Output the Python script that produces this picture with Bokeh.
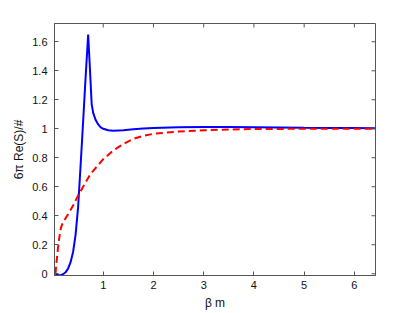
import math
from bokeh.plotting import figure
from bokeh.models import Range1d, FixedTicker
from bokeh.embed import file_html
from bokeh.resources import INLINE

# Blue solid curve
blue_x = [0.05, 0.1, 0.15, 0.2, 0.25, 0.3, 0.35, 0.4, 0.45, 0.5, 0.55, 0.6, 0.65, 0.70,
          0.73, 0.77, 0.8, 0.85, 0.9, 0.95, 1.0, 1.1, 1.2, 1.4, 1.6, 1.8, 2.0, 2.5, 3.0,
          3.5, 4.0, 4.5, 5.0, 5.5, 6.0, 6.42]
blue_y = [0.0, -0.008, -0.01, -0.003, 0.01, 0.035, 0.08, 0.15, 0.27, 0.46, 0.75, 1.05, 1.36, 1.65,
          1.45, 1.17, 1.11, 1.06, 1.03, 1.01, 1.0, 0.99, 0.987, 0.99, 0.996, 1.001, 1.006, 1.011, 1.013,
          1.013, 1.011, 1.009, 1.007, 1.006, 1.005, 1.004]

# Red dashed curve
red_x = [0.05, 0.07, 0.1, 0.13, 0.16, 0.2, 0.3, 0.4, 0.5, 0.6, 0.75, 0.9, 1.0, 1.2, 1.4,
         1.6, 1.8, 2.0, 2.5, 3.0, 3.5, 4.0, 4.5, 5.0, 5.5, 6.0, 6.42]
red_y = [0.0, 0.08, 0.18, 0.26, 0.32, 0.355, 0.41, 0.47, 0.54, 0.60, 0.69, 0.75, 0.79, 0.85, 0.895,
         0.93, 0.952, 0.965, 0.981, 0.99, 0.995, 0.998, 0.999, 1.0, 1.0, 1.0, 1.0]

x_ticks = [1, 2, 3, 4, 5, 6]
y_ticks = [0, 0.2, 0.4, 0.6, 0.8, 1.0, 1.2, 1.4, 1.6]
y_tick_labels = ["0", "0.2", "0.4", "0.6", "0.8", "1", "1.2", "1.4", "1.6"]

x_limits = [0.03, 6.42]
y_limits = [-0.012, 1.726]

x_label = "β m"
y_label = "6π Re(S)/#"

FONT = "Liberation Sans"
AX = "#555555"

p = figure(width=415, height=313, x_range=Range1d(*x_limits), y_range=Range1d(*y_limits),
           output_backend="svg", toolbar_location=None,
           min_border_left=54, min_border_right=40, min_border_top=23, min_border_bottom=38)

p.xgrid.visible = False
p.ygrid.visible = False
p.outline_line_color = AX
p.outline_line_alpha = 1.0
p.background_fill_color = "white"
p.border_fill_color = "white"

p.line(blue_x, blue_y, line_color="#0000ff", line_width=2)
p.line(red_x, red_y, line_color="#ff0000", line_width=2, line_dash="7 4")

# tick marks on the top and right edges of the box (clipped to the frame, half inside)
p.scatter(x_ticks, [y_limits[1]] * len(x_ticks), marker="dash", angle=math.pi / 2,
          size=8, line_color=AX, line_width=1)
p.scatter([x_limits[1]] * len(y_ticks), y_ticks, marker="dash", angle=0,
          size=8, line_color=AX, line_width=1)

for ax in [p.xaxis[0], p.yaxis[0]]:
    ax.major_tick_in = 4
    ax.major_tick_out = 0
    ax.minor_tick_line_color = None
    ax.axis_line_color = AX
    ax.major_tick_line_color = AX
    ax.major_label_text_font = FONT
    ax.major_label_text_font_size = "11px"
    ax.major_label_text_color = "#111111"
    ax.axis_label_text_font = FONT
    ax.axis_label_text_font_size = "12px"
    ax.axis_label_text_font_style = "normal"
    ax.axis_label_text_color = "#111111"

p.xaxis[0].ticker = FixedTicker(ticks=x_ticks)
p.yaxis[0].ticker = FixedTicker(ticks=y_ticks)
p.yaxis[0].major_label_overrides = {t: l for t, l in zip(y_ticks, y_tick_labels)}
p.xaxis[0].axis_label = x_label
p.yaxis[0].axis_label = y_label
p.xaxis[0].major_label_standoff = 5
p.yaxis[0].major_label_standoff = 7
p.xaxis[0].axis_label_standoff = 4
p.yaxis[0].axis_label_standoff = 3

open("out.html", "w").write(file_html(p, INLINE))
